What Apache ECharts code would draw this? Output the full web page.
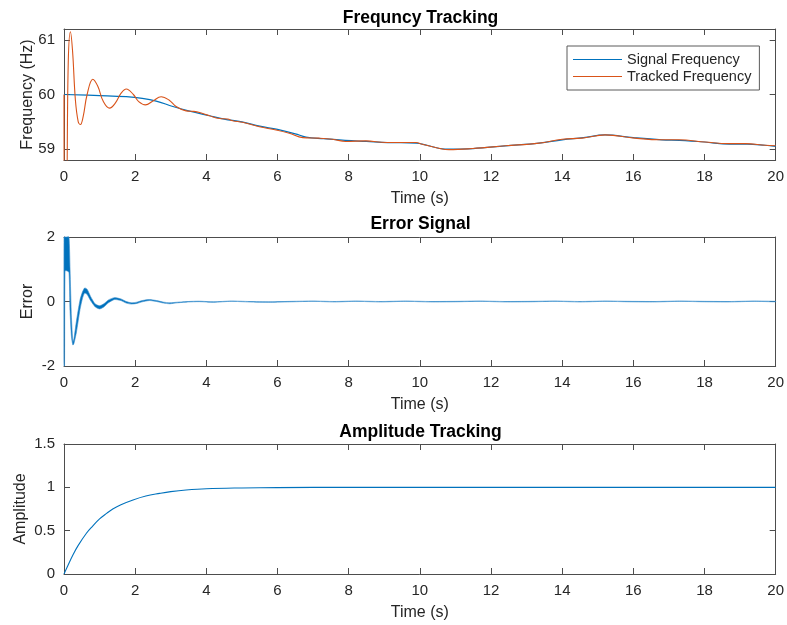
<!DOCTYPE html>
<html>
<head>
<meta charset="utf-8">
<script src="https://cdn.jsdelivr.net/npm/echarts@6/dist/echarts.min.js"></script>
<style>
html,body{margin:0;padding:0;background:#fff;}
#chart{width:787px;height:625px;}
</style>
</head>
<body>
<div id="chart"></div>
<script>
// ---------- Data ----------
const titles = ['Frequncy Tracking', 'Error Signal', 'Amplitude Tracking'];
const xLabel = 'Time (s)';
const yLabels = ['Frequency (Hz)', 'Error', 'Amplitude'];
const legendNames = ['Signal Frequency', 'Tracked Frequency'];
const freqTicks = [59, 60, 61];

const sigT = [0, 1, 1.75, 2.2, 2.59, 3.06, 3.5, 4.09, 4.5, 5, 5.5, 6, 6.5, 6.8, 7.3, 7.9, 8.5, 9.1, 9.9, 10.2, 10.7, 11.5, 12.4, 13.35, 14, 14.6, 15.2, 16, 16.8, 17.3, 18, 18.7, 19.2, 19.7, 20];
const sigF = [60.0, 59.98, 59.96, 59.93, 59.88, 59.78, 59.70, 59.61, 59.55, 59.50, 59.42, 59.36, 59.28, 59.22, 59.19, 59.16, 59.14, 59.12, 59.11, 59.07, 59.0, 59.01, 59.06, 59.11, 59.17, 59.21, 59.26, 59.21, 59.17, 59.16, 59.13, 59.09, 59.09, 59.07, 59.05];

const trkT = [0, 0.01, 0.06, 0.12, 0.18, 0.24, 0.32, 0.40, 0.46, 0.54, 0.65, 0.81, 0.95, 1.1, 1.28, 1.45, 1.6, 1.75, 1.95, 2.1, 2.29, 2.5, 2.73, 2.95, 3.15, 3.43, 3.65, 3.81, 4.09, 4.37, 4.6, 4.74, 5.02, 5.49, 5.96, 6.33, 6.71, 7.17, 7.55, 7.92, 8.48, 9.05, 9.42, 9.89, 10.07, 10.63, 10.82, 11.48, 12.41, 13.35, 14.0, 14.56, 15.21, 16.04, 16.8, 17.27, 18.02, 18.68, 19.15, 19.71, 20];
const trkF = [60.0, 58.0, 58.0, 60.6, 61.15, 60.8, 59.9, 59.5, 59.45, 59.6, 60.0, 60.28, 60.15, 59.88, 59.75, 59.85, 60.02, 60.10, 60.0, 59.87, 59.81, 59.88, 59.96, 59.9, 59.78, 59.70, 59.69, 59.67, 59.61, 59.56, 59.55, 59.52, 59.49, 59.41, 59.35, 59.29, 59.21, 59.20, 59.18, 59.14, 59.15, 59.12, 59.12, 59.12, 59.09, 59.0, 58.99, 59.01, 59.06, 59.11, 59.18, 59.20, 59.26, 59.20, 59.17, 59.17, 59.13, 59.10, 59.10, 59.07, 59.06];

const errT = [0, 0.015, 0.03, 0.08, 0.14, 0.17, 0.21, 0.25, 0.28, 0.35, 0.45, 0.52, 0.58, 0.65, 0.75, 0.88, 1.0, 1.12, 1.25, 1.42, 1.6, 1.75, 1.89, 2.05, 2.2, 2.4, 2.6, 2.8, 2.97, 3.2, 3.5, 3.8, 4.2, 4.7, 5.2, 5.8, 6.4, 7.0, 7.6, 8.2, 8.9, 9.6, 10.3, 11, 11.7, 12.4, 13.1, 13.8, 14.5, 15.2, 15.9, 16.6, 17.3, 18, 18.7, 19.4, 20];
const errUpper = [2.5, 2.5, 2.5, 2.5, 2.5, 1.0, -0.5, -1.25, -1.15, -0.6, 0.05, 0.3, 0.42, 0.38, 0.15, -0.08, -0.13, -0.07, 0.05, 0.12, 0.08, 0.0, -0.04, -0.02, 0.03, 0.06, 0.03, -0.02, -0.04, -0.02, 0.0, 0.01, -0.01, 0.015, 0.0, -0.01, 0.005, 0.015, 0.0, 0.015, 0.0, 0.015, 0.0, 0.005, 0.015, 0.0, 0.005, 0.015, 0.0, 0.015, 0.005, 0.0, 0.015, 0.005, 0.0, 0.015, 0.005];
const errLower = [-2.5, -2.5, 0.95, 0.95, 0.9, -0.3, -1.1, -1.35, -1.3, -0.95, -0.25, 0.1, 0.26, 0.22, 0.02, -0.17, -0.23, -0.17, -0.04, 0.06, 0.03, -0.05, -0.08, -0.06, -0.01, 0.03, 0.0, -0.05, -0.07, -0.04, -0.015, -0.005, -0.025, 0.005, -0.015, -0.025, -0.01, 0.005, -0.015, 0.005, -0.015, 0.005, -0.015, -0.01, 0.005, -0.015, -0.01, 0.005, -0.015, 0.005, -0.01, -0.015, 0.005, -0.01, -0.015, 0.005, -0.01];

const ampT = [0, 0.1, 0.25, 0.4, 0.63, 0.8, 1.0, 1.2, 1.37, 1.6, 1.94, 2.3, 2.69, 3.0, 3.43, 4.0, 5, 6, 8, 20];
const ampV = [0, 0.09, 0.22, 0.33, 0.47, 0.55, 0.635, 0.70, 0.75, 0.80, 0.855, 0.90, 0.93, 0.95, 0.969, 0.984, 0.993, 0.997, 1.0, 1.0];

// ---------- Styling ----------
const BLUE = '#0072BD', ORANGE = '#D95319';
const AX = '#4d4d4d', TXT = '#262626';
const FONT = '"Liberation Sans", Arial, Helvetica, sans-serif';
const grids = [
  {left: 64, top: 29, width: 713, height: 131},
  {left: 64, top: 237, width: 713, height: 129},
  {left: 64, top: 444, width: 713, height: 130}
];
const yRanges = [
  {min: 58.8, max: 61.2},
  {min: -2, max: 2, interval: 2},
  {min: 0, max: 1.5, interval: 0.5}
];
const yNameGaps = [28, 28, 35];
const titleTops = [9, 215, 423];

function axisLineCfg() { return {show: true, onZero: false, lineStyle: {color: AX, width: 1}}; }
function tickCfg(custom) {
  const t = {show: true, inside: true, length: 6, lineStyle: {color: AX, width: 1}};
  if (custom) t.customValues = custom;
  return t;
}

const xAxes = [], yAxes = [];
grids.forEach((g, i) => {
  xAxes.push({
    type: 'value', gridIndex: i, min: 0, max: 20, interval: 2, position: 'bottom',
    axisLine: axisLineCfg(), axisTick: tickCfg(), splitLine: {show: false},
    axisLabel: {color: TXT, fontSize: 15, fontFamily: FONT, margin: 9},
    name: xLabel, nameLocation: 'middle', nameGap: 31, nameMoveOverlap: false,
    nameTextStyle: {color: TXT, fontSize: 16, fontFamily: FONT}
  });
  xAxes.push({
    type: 'value', gridIndex: i, min: 0, max: 20, interval: 2, position: 'top',
    axisLine: axisLineCfg(), axisTick: tickCfg(), splitLine: {show: false},
    axisLabel: {show: false}
  });
  const r = yRanges[i];
  const custom = i === 0 ? freqTicks : null;
  const yl = Object.assign({
    type: 'value', gridIndex: i, position: 'left',
    axisLine: axisLineCfg(), axisTick: tickCfg(custom), splitLine: {show: false},
    axisLabel: Object.assign({color: TXT, fontSize: 15, fontFamily: FONT, margin: 9}, custom ? {customValues: custom} : {}),
    name: yLabels[i], nameLocation: 'middle', nameGap: yNameGaps[i], nameRotate: 90, nameMoveOverlap: false,
    nameTextStyle: {color: TXT, fontSize: 16, fontFamily: FONT}
  }, r);
  yAxes.push(yl);
  const yr = Object.assign({
    type: 'value', gridIndex: i, position: 'right',
    axisLine: axisLineCfg(), axisTick: tickCfg(custom), splitLine: {show: false},
    axisLabel: {show: false}
  }, r);
  yAxes.push(yr);
});

const pairs = (xs, ys) => xs.map((x, i) => [x, ys[i]]);

const option = {
  animation: false,
  backgroundColor: '#fff',
  title: titles.map((t, i) => ({
    text: t, left: 420.5, top: titleTops[i], textAlign: 'center', padding: 0,
    textStyle: {fontSize: 17.5, fontWeight: 'bold', color: '#000', fontFamily: FONT}
  })),
  grid: grids,
  xAxis: xAxes,
  yAxis: yAxes,
  legend: {
    orient: 'vertical', left: 567, top: 46,
    padding: [5, 8, 5, 6], itemGap: 0, itemWidth: 49, itemHeight: 1.2, itemTextGap: 6,
    backgroundColor: '#fff', borderColor: '#5a5a5a', borderWidth: 1, borderRadius: 0,
    textStyle: {color: TXT, fontSize: 14.5, fontFamily: FONT, lineHeight: 17},
    data: legendNames.map(n => ({name: n, icon: 'rect'}))
  },
  series: [
    {
      name: legendNames[0], type: 'line', xAxisIndex: 0, yAxisIndex: 0,
      data: pairs(sigT, sigF), smooth: 0.4, symbol: 'none',
      lineStyle: {color: BLUE, width: 1.2}, itemStyle: {color: BLUE}, z: 2
    },
    {
      name: legendNames[1], type: 'line', xAxisIndex: 0, yAxisIndex: 0,
      data: pairs(trkT, trkF), smooth: 0.4, symbol: 'none',
      lineStyle: {color: ORANGE, width: 1.1}, itemStyle: {color: ORANGE}, z: 3
    },
    {
      name: 'Error', type: 'custom', xAxisIndex: 2, yAxisIndex: 2,
      data: errT.map((t, i) => [t, errUpper[i], errLower[i]]),
      encode: {x: 0, y: [1, 2]},
      renderItem: function (params, api) {
        if (params.dataIndex !== 0) return null;
        const pts = [];
        for (let i = 0; i < errT.length; i++) pts.push(api.coord([errT[i], errUpper[i]]));
        for (let i = errT.length - 1; i >= 0; i--) pts.push(api.coord([errT[i], errLower[i]]));
        const cs = params.coordSys;
        const clipped = echarts.graphic.clipPointsByRect(pts, {x: cs.x, y: cs.y, width: cs.width, height: cs.height});
        return {
          type: 'polygon',
          shape: {points: clipped, smooth: 0.2},
          style: {fill: BLUE, stroke: '#3a8fcc', lineWidth: 0.6}
        };
      }
    },
    {
      name: 'Amplitude', type: 'line', xAxisIndex: 4, yAxisIndex: 4,
      data: pairs(ampT, ampV), smooth: 0.4, symbol: 'none',
      lineStyle: {color: BLUE, width: 1.1}
    }
  ]
};

const chart = echarts.init(document.getElementById('chart'), null, {renderer: 'canvas'});
chart.setOption(option);
</script>
</body>
</html>
